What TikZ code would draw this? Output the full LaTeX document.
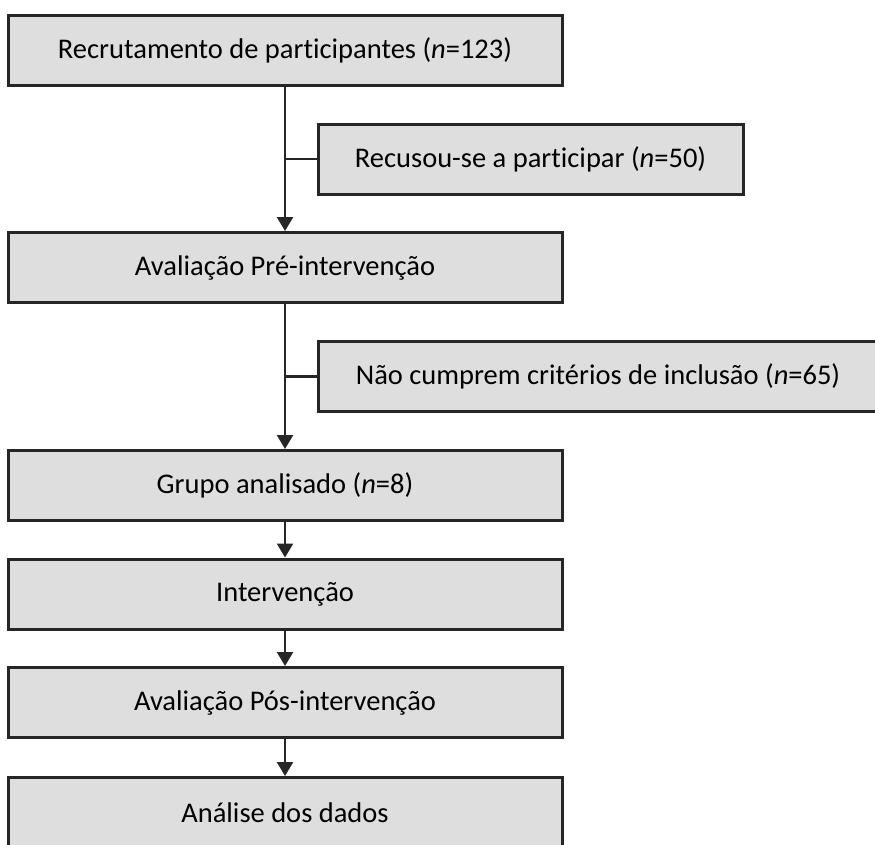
\documentclass[tikz,border=0pt]{standalone}
\usepackage{fontspec}
\setmainfont{Carlito}[Ligatures=NoCommon]
\usepackage{tikz}
\usetikzlibrary{positioning,arrows.meta}
\definecolor{boxfill}{HTML}{DEDEDE}
\definecolor{boxline}{HTML}{262626}

\begin{document}
\begin{tikzpicture}[x=1pt, y=-1pt,
  stage/.style={draw=boxline, fill=boxfill, line width=3pt, minimum width=554pt,
    minimum height=70pt, inner sep=0, font=\fontsize{28.5}{34}\selectfont},
  excl/.style={stage, minimum width=425pt},
  flow/.style={draw=boxline, line width=2.5pt, -{Triangle[width=16pt,length=14pt]}},
  link/.style={draw=boxline, line width=2.5pt}]
\useasboundingbox (0,0) rectangle (875,844);
% main column
\node[stage] (recr) at (285,50) {Recrutamento de participantes (\textit{n}=123)};
\node[stage] (pre) at (285,267.5) {Avaliação Pré-intervenção};
\node[stage] (grupo) at (285,485.5) {Grupo analisado (\textit{n}=8)};
\node[stage] (interv) at (285,594) {Intervenção};
\node[stage] (pos) at (285,702.5) {Avaliação Pós-intervenção};
\node[stage] (anal) at (285,812.5) {Análise dos dados};
% exclusions
\node[excl] (recusa) at (530.5,159) {Recusou-se a participar (\textit{n}=50)};
\node[excl, minimum width=560pt] (naocump) at (598,376.5) {Não cumprem critérios de inclusão (\textit{n}=65)};
% arrows
\draw[flow] (recr) -- (pre);
\draw[flow] (pre) -- (grupo);
\draw[flow] (grupo) -- (interv);
\draw[flow] (interv) -- (pos);
\draw[flow] (pos) -- (anal);
\draw[link] (recusa.west) -- (recusa.west -| recr.south);
\draw[link] (naocump.west) -- (naocump.west -| pre.south);
\end{tikzpicture}
\end{document}
